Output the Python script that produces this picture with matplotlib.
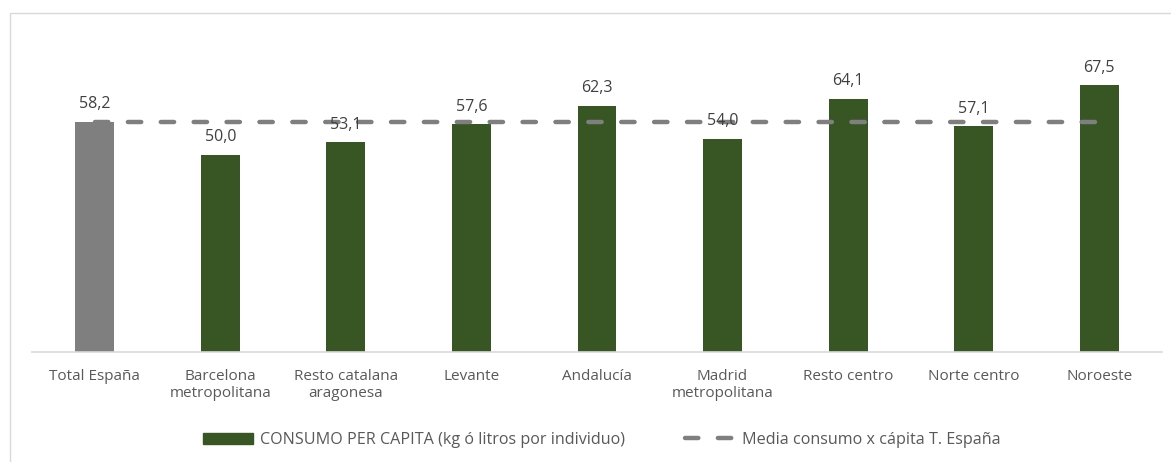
import matplotlib.pyplot as plt
from matplotlib.patches import Rectangle
from matplotlib.lines import Line2D
import numpy as np

# Data
categories = ['Total España', 'Barcelona\nmetropolitana', 'Resto catalana\naragonesa',
              'Levante', 'Andalucía', 'Madrid\nmetropolitana', 'Resto centro',
              'Norte centro', 'Noroeste']
consumo = [58.2, 50.0, 53.1, 57.6, 62.3, 54.0, 64.1, 57.1, 67.5]
media_espana = [58.2] * len(categories)

GREEN = '#375623'
GREY = '#7f7f7f'
TEXT = '#595959'
DASH = (0, (3.0, 4.4))

plt.rcParams['font.family'] = ['Open Sans', 'DejaVu Sans']

fig = plt.figure(figsize=(11.71, 4.62), dpi=100)
fig.patch.set_facecolor('white')

# light chart border
fig.patches.append(Rectangle((10 / 1171, -0.05), 1.1, (462 - 13) / 462 + 0.05,
                             transform=fig.transFigure, fill=False,
                             edgecolor='#d9d9d9', linewidth=1))

ax = fig.add_axes([32 / 1171, 110 / 462, 1130 / 1171, 316 / 462])
x = np.arange(len(categories))
colors = [GREY] + [GREEN] * (len(categories) - 1)
bars = ax.bar(x, consumo, width=0.31, color=colors, zorder=2)
ax.plot(x, media_espana, color=GREY, linestyle=DASH, linewidth=3.2,
        zorder=3, dash_capstyle='round')

for xi, v in zip(x, consumo):
    ax.annotate(f'{v:.1f}'.replace('.', ','), (xi, v), xytext=(0, 7),
                textcoords='offset points', ha='center', va='bottom',
                fontsize=11.5, color='#404040')

ax.set_xlim(-0.5, len(categories) - 0.5)
ax.set_ylim(0, 80)
ax.set_xticks(x)
ax.set_xticklabels(categories, fontsize=11, color=TEXT, linespacing=1.25)
ax.tick_params(axis='x', length=0, pad=12)
ax.set_yticks([])
for s in ['top', 'right', 'left']:
    ax.spines[s].set_visible(False)
ax.spines['bottom'].set_color('#d9d9d9')
ax.spines['bottom'].set_linewidth(1.2)

handles = [Rectangle((0, 0), 1, 1, color=GREEN),
           Line2D([0], [0], color=GREY, linestyle=DASH, linewidth=3.2,
                  dash_capstyle='round')]
labels = ['CONSUMO PER CAPITA (kg ó litros por individuo)',
          'Media consumo x cápita T. España']
leg = fig.legend(handles, labels, loc='center left', bbox_to_anchor=(188 / 1171, 1 - 440 / 462),
                 ncol=2, frameon=False, fontsize=11.6, handlelength=3.15,
                 handleheight=0.7, columnspacing=3.75, handletextpad=0.4)
for t in leg.get_texts():
    t.set_color(TEXT)

fig.savefig('out.png', dpi=100, facecolor='white')
